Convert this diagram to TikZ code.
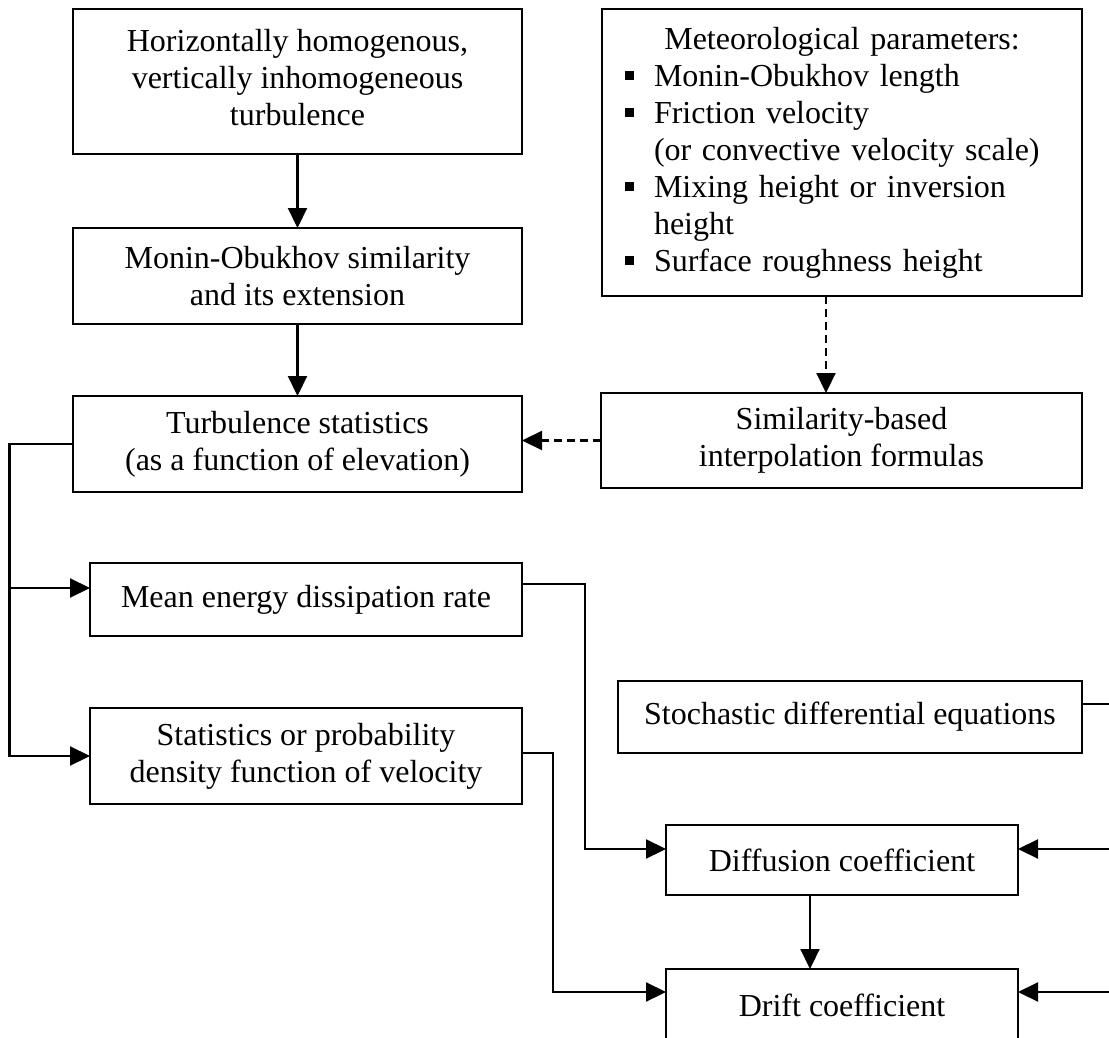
\documentclass[tikz,border=0pt]{standalone}
\usepackage{fontspec}
\setmainfont{Liberation Serif}
\usetikzlibrary{arrows.meta}
\newcommand\mybul{\makebox[47pt][l]{\hspace{18pt}\rule[6pt]{9pt}{9pt}}}
\begin{document}
\begin{tikzpicture}[x=1pt,y=-1pt,
  box/.style={draw, line width=2.2pt, inner sep=0pt, outer sep=0pt, align=center,
    font=\fontsize{32}{37}\selectfont},
  conn/.style={line width=2.2pt, -{Triangle[length=20pt,width=19pt]}},
  plainline/.style={line width=2.2pt},
  dconn/.style={conn, dash pattern=on 8pt off 5pt}]
\clip (0,0) rectangle (1109,1038);
% boxes
\node[box, minimum width=449pt, minimum height=145pt] (hh) at (297.5,81.5)
  {\raisebox{4pt}{\begin{tabular}{@{}c@{}}Horizontally homogenous,\\vertically inhomogeneous\\turbulence\end{tabular}}};
\node[box, minimum width=449pt, minimum height=96pt] (mo) at (297.5,276)
  {Monin-Obukhov similarity\\and its extension};
\node[box, minimum width=449pt, minimum height=96pt] (ts) at (297.5,444)
  {Turbulence statistics\\(as a function of elevation)};
\node[box, minimum width=480pt, minimum height=287pt, text width=470pt, inner sep=5pt] (met) at (842,152.5)
  {Meteorological parameters:\\
   \makebox[470pt][l]{\mybul Monin-Obukhov length}\\
   \makebox[470pt][l]{\mybul Friction velocity}\\
   \makebox[470pt][l]{\hspace*{47pt}(or convective velocity scale)}\\
   \makebox[470pt][l]{\mybul Mixing height or inversion}\\
   \makebox[470pt][l]{\hspace*{47pt}height}\\
   \makebox[470pt][l]{\mybul Surface roughness height}};
\node[box, minimum width=481pt, minimum height=95pt] (sim) at (841.5,440.5)
  {Similarity-based\\interpolation formulas};
\node[box, minimum width=432pt, minimum height=73pt] (mean) at (306,599.5)
  {Mean energy dissipation rate};
\node[box, minimum width=432pt, minimum height=96pt] (stat) at (306,756)
  {Statistics or probability\\density function of velocity};
\node[box, minimum width=464pt, minimum height=72pt] (sde) at (850,717)
  {Stochastic differential equations};
\node[box, minimum width=352pt, minimum height=70pt] (diff) at (842,860)
  {Diffusion coefficient};
\node[box, minimum width=352pt, minimum height=72pt] (drift) at (842,1005)
  {Drift coefficient};
% helper coordinates
\coordinate (dx) at (826,0);
\coordinate (lx) at (9.5,0);
\coordinate (ay) at (0,588);
\coordinate (by) at (0,756);
\coordinate (my) at (0,584);
\coordinate (mx) at (585,0);
\coordinate (d1) at (0,849);
\coordinate (sy) at (0,753);
\coordinate (sx) at (553,0);
\coordinate (d2) at (0,992);
\coordinate (ey) at (0,704);
\coordinate (rx) at (1125,0);
\coordinate (vx) at (810,0);
% connectors
\draw[conn] (hh.south) -- (mo.north);
\draw[conn] (mo.south) -- (ts.north);
\draw[dconn] (met.south -| dx) -- (sim.north -| dx);
\draw[dconn] (sim.west) -- (sim.west -| ts.east);
\draw[conn] (ts.west) -- (ts.west -| lx) |- (stat.west |- by);
\draw[conn] (lx |- ay) -- (mean.west |- ay);
\draw[conn] (mean.east |- my) -- (mx |- my) |- (diff.west |- d1);
\draw[conn] (stat.east |- sy) -- (sx |- sy) |- (drift.west |- d2);
\draw[plainline] (sde.east |- ey) -- (rx |- ey) -- (rx |- d2);
\draw[conn] (rx |- d1) -- (diff.east |- d1);
\draw[conn] (rx |- d2) -- (drift.east |- d2);
\draw[conn] (diff.south -| vx) -- (drift.north -| vx);
\end{tikzpicture}
\end{document}
